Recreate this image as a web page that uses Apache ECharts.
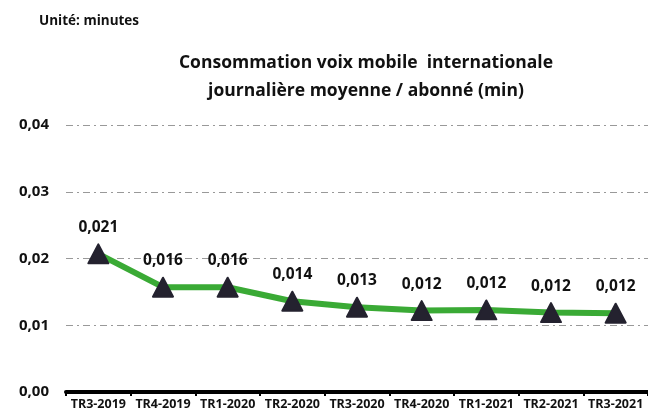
<!DOCTYPE html>
<html>
<head>
<meta charset="utf-8">
<script src="https://cdn.jsdelivr.net/npm/echarts@6/dist/echarts.min.js"></script>
<style>
  html, body { margin: 0; padding: 0; background: #fff; }
  #chart { width: 648px; height: 416px; }
</style>
</head>
<body>
<div id="chart"></div>
<script>
// trimestres
var categories = ['TR3-2019', 'TR4-2019', 'TR1-2020', 'TR2-2020', 'TR3-2020', 'TR4-2020', 'TR1-2021', 'TR2-2021', 'TR3-2021'];
// consommation moyenne (min)
var values = [0.0207, 0.0157, 0.0157, 0.0136, 0.0127, 0.0122, 0.0123, 0.0119, 0.0118];
var yTicks = [0, 0.01, 0.02, 0.03, 0.04];

var font = '"Open Sans", "Liberation Sans", sans-serif';

function fr(v, d) {
    return v.toFixed(d).replace('.', ',');
}

var myChart = echarts.init(document.getElementById('chart'));
myChart.setOption({
    animation: false,
    backgroundColor: '#fff',
    title: [
        {
            text: 'Unité: minutes',
            left: 34, top: 9,
            textStyle: { fontFamily: font, fontSize: 13.5, fontWeight: 'bold', color: '#111' }
        },
        {
            text: 'Consommation voix mobile  internationale\njournalière moyenne / abonné (min)',
            left: 361, top: 44, textAlign: 'center',
            textStyle: { fontFamily: font, fontSize: 17.5, fontWeight: 'bold', color: '#111', lineHeight: 28 }
        }
    ],
    grid: { left: 66, right: -3, top: 125, bottom: 24 },
    xAxis: {
        type: 'category',
        data: categories,
        axisLine: { lineStyle: { color: '#000', width: 4 } },
        axisTick: { show: true, length: 4, lineStyle: { color: '#000', width: 2 } },
        axisLabel: { fontFamily: font, fontSize: 12.5, fontWeight: 'bold', color: '#111', margin: 6, interval: 0 }
    },
    yAxis: {
        type: 'value',
        min: yTicks[0], max: yTicks[yTicks.length - 1], interval: 0.01,
        axisLine: { show: false },
        axisTick: { show: false },
        axisLabel: {
            fontFamily: font, fontSize: 15, fontWeight: 'bold', color: '#111', margin: 17,
            formatter: function (v) { return fr(v, 2); }
        },
        splitLine: { lineStyle: { color: '#999', width: 1, type: [7, 4, 2, 4] } }
    },
    series: [{
        type: 'line',
        data: values,
        symbol: 'triangle',
        symbolSize: [20, 19],
        itemStyle: { color: '#24222f', borderColor: '#24222f', borderWidth: 2, borderJoin: 'round' },
        lineStyle: { color: '#3aaa35', width: 6 },
        label: {
            show: true, position: 'top', distance: 8,
            fontFamily: font, fontSize: 15.5, fontWeight: 'bold', color: '#111',
            formatter: function (p) { return fr(p.value, 3); }
        }
    }]
});
</script>
</body>
</html>
